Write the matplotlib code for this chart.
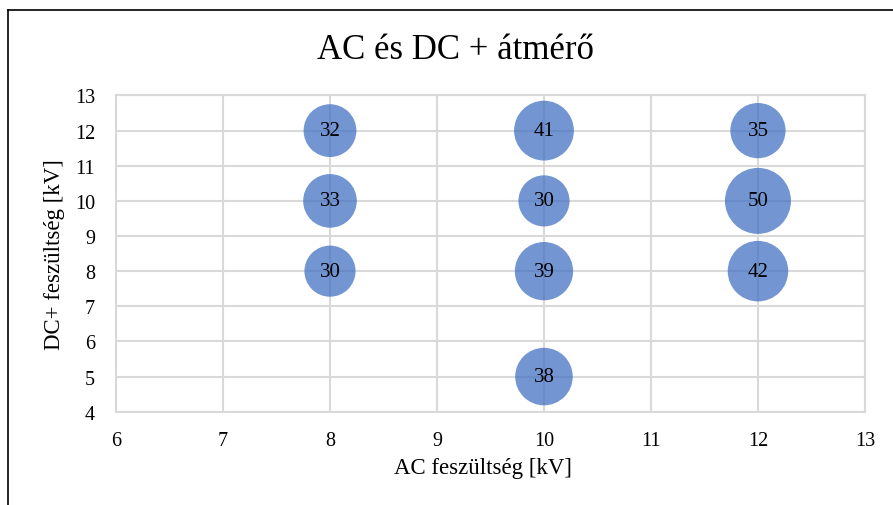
import matplotlib
matplotlib.use("Agg")
import matplotlib.pyplot as plt
from matplotlib.lines import Line2D

# data
ac_kv = [8, 8, 8, 10, 10, 10, 10, 12, 12, 12]
dc_kv = [12, 10, 8, 12, 10, 8, 5, 12, 10, 8]
diameter = [32, 33, 30, 41, 30, 39, 38, 35, 50, 42]

x_ticks = [6, 7, 8, 9, 10, 11, 12, 13]
y_ticks = [4, 5, 6, 7, 8, 9, 10, 11, 12, 13]

plt.rcParams['font.family'] = ['Liberation Serif', 'DejaVu Serif']

fig = plt.figure(figsize=(8.93, 5.06), dpi=100)
ax = fig.add_axes([0.1299, 0.1844, 0.8387, 0.6249])

# bubble area proportional to value, largest ~66 px across
max_s = (66 * 0.72) ** 2
sizes = [max_s * d / max(diameter) for d in diameter]
ax.scatter(ac_kv, dc_kv, s=sizes, color='#4472C4', alpha=0.75,
           edgecolors='none', zorder=3)
for x, y, d in zip(ac_kv, dc_kv, diameter):
    ax.text(x, y, str(d), ha='center', va='center', fontsize=15,
            color='black', zorder=4)

ax.set_xlim(6, 13)
ax.set_ylim(4, 13)
ax.set_xticks(x_ticks)
ax.set_yticks(y_ticks)
ax.tick_params(length=0, labelsize=14.5)
ax.tick_params(axis='x', pad=14)
ax.tick_params(axis='y', pad=15)
ax.grid(True, color='#d9d9d9', linewidth=1.5, zorder=0)
ax.set_axisbelow(True)
for sp in ax.spines.values():
    sp.set_color('#d9d9d9')
    sp.set_linewidth(1.5)

ax.set_xlabel('AC feszültség [kV]', fontsize=16.5, labelpad=5)
ax.xaxis.label.set_x(0.49)
ax.set_ylabel('DC+ feszültség [kV]', fontsize=16.5, labelpad=7)
ax.set_title('AC és DC + átmérő', fontsize=25, pad=27, x=0.453)

# chart frame (left and top edges visible)
fig.add_artist(Line2D([8 / 893, 8 / 893], [0, 1 - 10.5 / 506],
                      transform=fig.transFigure, color='black', lw=1.2))
fig.add_artist(Line2D([8 / 893, 1], [1 - 10.5 / 506, 1 - 10.5 / 506],
                      transform=fig.transFigure, color='black', lw=1.2))

fig.savefig('out.png', dpi=100)
